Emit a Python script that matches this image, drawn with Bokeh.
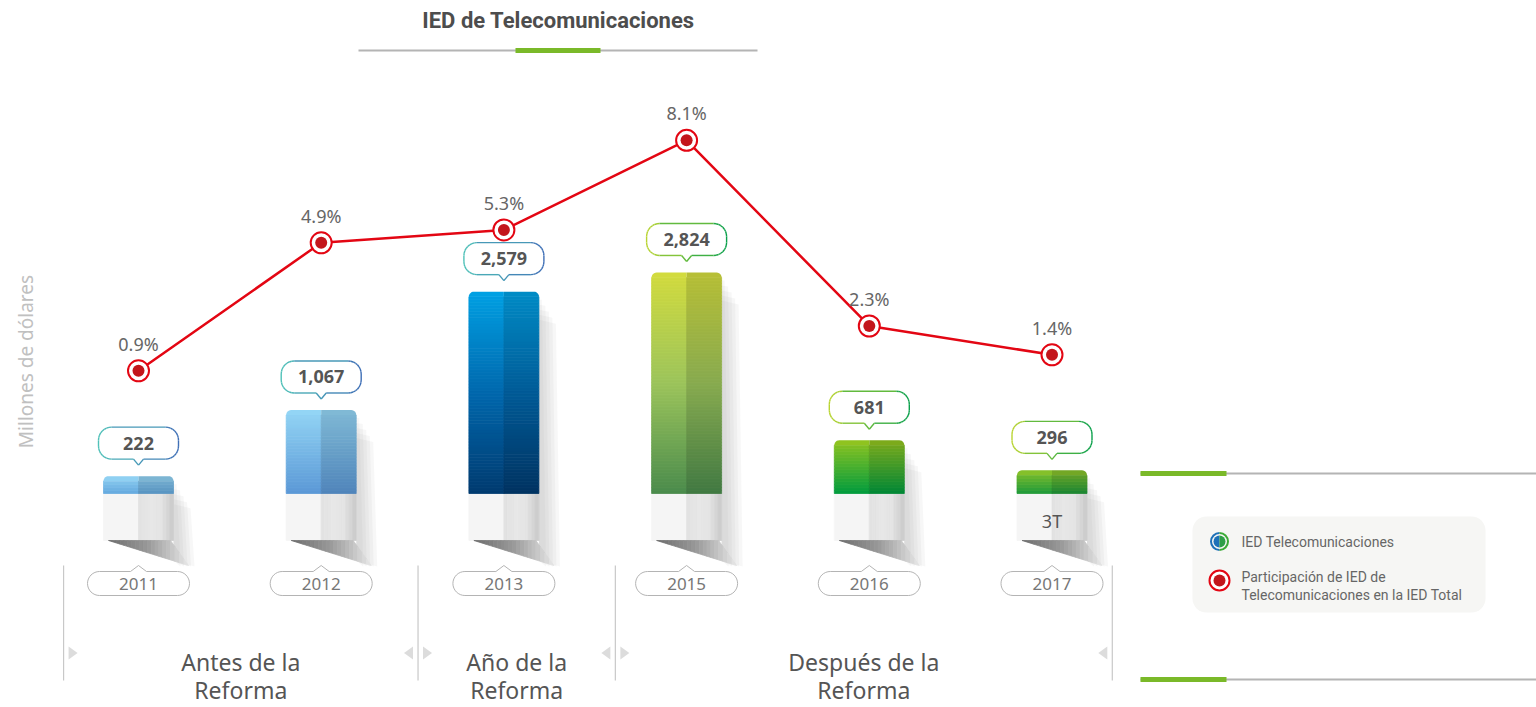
import math
from bokeh.plotting import figure
from bokeh.models import Range1d
from bokeh.core.properties import value
from bokeh.embed import file_html
from bokeh.resources import INLINE

# ---------------- data ----------------
years = ["2011", "2012", "2013", "2015", "2016", "2017"]
ied_telecom = [222, 1067, 2579, 2824, 681, 296]          # millones de dólares
value_labels = ["222", "1,067", "2,579", "2,824", "681", "296"]
share_pct = [0.9, 4.9, 5.3, 8.1, 2.3, 1.4]               # % de la IED total
share_labels = ["0.9%", "4.9%", "5.3%", "8.1%", "2.3%", "1.4%"]
bar_notes = ["", "", "", "", "", "3T"]
group_labels = ["Antes de la\nReforma", "Año de la\nReforma", "Después de la\nReforma"]
title = "IED de Telecomunicaciones"
y_label = "Millones de dólares"
legend_labels = ["IED Telecomunicaciones",
                 "Participación de IED de\nTelecomunicaciones en la IED Total"]

# ---------------- styles ----------------
bar_stops = [
    ["#8fd0f2", "#64a8de"],
    ["#93d5f5", "#5b98d6"],
    ["#00a0e3", "#0068ad", "#003a6f"],
    ["#d2db3e", "#9cc45b", "#4a8b4c"],
    ["#8fc31f", "#009b3e"],
    ["#84c02a", "#1d9a3b"],
]
bubble_edge = [("#4fc1b8", "#3f6fb6")] * 3 + [("#b9d432", "#0aa04b")] * 3
RED = "#e30613"
GREEN = "#7ab929"

# ---------------- layout (page pixels) ----------------
W, H = 1536, 707
C0, PX = 138.0, 182.7      # centre of first category and spacing
BASE = 493.0               # baseline (page y)
SY = 0.07826               # px per million
PCT_RANGE = (-9.62, 12.47)  # secondary axis range (%)
divider_pos = [-0.41, 1.53, 2.61, 5.33]   # in category units


def dx(sx):
    return (sx - C0) / PX


def dy(sy):
    return (BASE - sy) / SY


def hex2rgb(h):
    h = h.lstrip("#")
    return tuple(int(h[i:i + 2], 16) for i in (0, 2, 4))


def rgb2hex(c):
    return "#%02x%02x%02x" % tuple(max(0, min(255, int(round(v)))) for v in c)


def grad(stops, t):
    t = min(max(t, 0.0), 1.0)
    n = len(stops) - 1
    pos = t * n
    k = min(int(pos), n - 1)
    f = pos - k
    a, b = hex2rgb(stops[k]), hex2rgb(stops[k + 1])
    return rgb2hex([a[j] + (b[j] - a[j]) * f for j in range(3)])


def shade(h, f):
    return rgb2hex([c * f for c in hex2rgb(h)])


def rrect(x0, y0, x1, y1, r, notch_top=None, notch_bottom=None, n=8):
    pts = []

    def arc(ccx, ccy, a0, a1):
        for k in range(n + 1):
            a = math.radians(a0 + (a1 - a0) * k / n)
            pts.append((ccx + r * math.cos(a), ccy + r * math.sin(a)))
    arc(x0 + r, y0 + r, 180, 270)
    if notch_top:
        cx, w, h = notch_top
        pts += [(cx - w, y0), (cx, y0 - h), (cx + w, y0)]
    arc(x1 - r, y0 + r, 270, 360)
    arc(x1 - r, y1 - r, 0, 90)
    if notch_bottom:
        cx, w, h = notch_bottom
        pts += [(cx + w, y1), (cx, y1 + h), (cx - w, y1)]
    arc(x0 + r, y1 - r, 90, 180)
    return pts


p = figure(width=W, height=H, x_range=Range1d(dx(0), dx(W)),
           y_range=Range1d(dy(H), dy(0)),
           output_backend="svg", toolbar_location=None, min_border=0,
           x_axis_location=None, y_axis_location=None)
p.extra_y_ranges = {"pct": Range1d(*PCT_RANGE)}
p.grid.visible = False
p.outline_line_color = None
p.background_fill_color = "white"
p.border_fill_color = "white"

# ---------------- shadows / pedestals ----------------
op = ([], [], [], [])     # opaque polys
tr = ([], [], [], [])     # translucent polys


def add_poly(pts, col, alpha, store):
    xs_, ys_, c_, a_ = store
    xs_.append([dx(x) for x, y in pts])
    ys_.append([dy(y) for x, y in pts])
    c_.append(col)
    a_.append(alpha)


for i, v in enumerate(ied_telecom):
    cx = C0 + i * PX
    top = BASE - v * SY
    # soft shadow to the right
    for k in range(5):
        xa, xb = cx + 35, cx + 38 + k * 3.5
        add_poly([(xa, top + 8 + k * 5), (xb, top + 8 + k * 6), (xb + 4, 566), (xa, 560)],
                 "#8a8a8a", 0.07, tr)
    # pedestal
    add_poly([(cx - 35, BASE), (cx, BASE), (cx, 540), (cx - 35, 540)], "#f5f5f5", 1, op)
    ped = ["#e2e2e2", "#e7e7e7", "#e4e4e4", "#cdcdcd"]
    for k in range(10):
        xa, xb = cx + k * 3.5, cx + (k + 1) * 3.5
        add_poly([(xa, BASE), (xb, BASE), (xb, 540), (xa, 540)], grad(ped, k / 9.0), 1, op)
    # wedge shadow under pedestal
    xl, xm, xr = cx - 30, cx + 32, cx + 50

    def ytop(x):
        return 540 if x <= xm else 540 + 25 * (x - xm) / (xr - xm)

    def ybot(x):
        return 540 + 25 * (x - xl) / (xr - xl)
    cuts = [xl + (xm - xl) * k / 16 for k in range(17)] + [xm + (xr - xm) * k / 4 for k in range(1, 5)]
    for k in range(len(cuts) - 1):
        xa, xb = cuts[k], cuts[k + 1]
        t = ((xa + xb) / 2 - xl) / (xr - xl)
        add_poly([(xa, ytop(xa)), (xb, ytop(xb)), (xb, ybot(xb)), (xa, ybot(xa))],
                 grad(["#6c6c6c", "#9a9a9a", "#e6e6e6"], t), 1, op)

p.patches(tr[0], tr[1], fill_color=tr[2], fill_alpha=tr[3], line_color=None)
p.patches(op[0], op[1], fill_color=op[2], line_color=op[2], line_width=0.8)

# ---------------- bars ----------------
ql, qr, qb, qt, qc = [], [], [], [], []
cap_xs, cap_ys, cap_c = [], [], []
HW = 35 / PX
for i, v in enumerate(ied_telecom):
    cx = C0 + i * PX
    hpx = v * SY
    cap = min(5.0, hpx / 2)
    body = hpx - cap
    n = max(3, int(body / 3))
    for k in range(n):
        y0 = v * (k / n) * body / hpx
        y1 = v * ((k + 1) / n) * body / hpx
        t = 1 - ((y0 + y1) / 2) / v
        c = grad(bar_stops[i], t)
        ql += [i - HW, i]
        qr += [i, i + HW]
        qb += [y0, y0]
        qt += [y1, y1]
        qc += [c, shade(c, 0.87)]
    top = BASE - hpx
    r = cap
    c = grad(bar_stops[i], 0)
    lpts = [(cx - 35, top + cap)]
    rpts = [(cx, top + cap), (cx, top)]
    for k in range(7):
        a = math.radians(180 + 90 * k / 6)
        lpts.append((cx - 35 + r + r * math.cos(a), top + r + r * math.sin(a)))
    lpts += [(cx, top), (cx, top + cap)]
    for k in range(7):
        a = math.radians(270 + 90 * k / 6)
        rpts.append((cx + 35 - r + r * math.cos(a), top + r + r * math.sin(a)))
    rpts.append((cx + 35, top + cap))
    for pts, col in ((lpts, c), (rpts, shade(c, 0.87))):
        cap_xs.append([dx(x) for x, y in pts])
        cap_ys.append([dy(y) for x, y in pts])
        cap_c.append(col)
p.quad(left=ql, right=qr, bottom=qb, top=qt, fill_color=qc, line_color=qc, line_width=0.8)
p.patches(cap_xs, cap_ys, fill_color=cap_c, line_color=None)

# ---------------- bubbles and year pills ----------------
b_xs, b_ys = [], []
seg_xs, seg_ys, seg_c = [], [], []
pill_xs, pill_ys = [], []
for i, v in enumerate(ied_telecom):
    cx = C0 + i * PX
    top = BASE - v * SY
    pts = rrect(cx - 40, top - 49, cx + 40, top - 17, 13, notch_bottom=(cx, 5, 6))
    b_xs.append([dx(x) for x, y in pts])
    b_ys.append([dy(y) for x, y in pts])
    cl, cr = bubble_edge[i]
    closed = pts + [pts[0]]
    for k in range(len(closed) - 1):
        (xa, ya), (xb, yb) = closed[k], closed[k + 1]
        t = ((xa + xb) / 2 - (cx - 40)) / 80
        seg_xs.append([dx(xa), dx(xb)])
        seg_ys.append([dy(ya), dy(yb)])
        seg_c.append(grad([cl, cr], t))
    pp = rrect(cx - 51, 571, cx + 51, 595, 12, notch_top=(cx, 8, 6))
    pill_xs.append([dx(x) for x, y in pp])
    pill_ys.append([dy(y) for x, y in pp])
p.patches(b_xs, b_ys, fill_color="white", line_color=None)
p.multi_line(seg_xs, seg_ys, line_color=seg_c, line_width=1.4)
p.patches(pill_xs, pill_ys, fill_color="white", line_color="#b4b4b4", line_width=1)

idx = list(range(len(years)))
p.text(x=idx, y=ied_telecom, text=value_labels, y_offset=-33, text_align="center",
       text_baseline="middle", text_font=value("Noto Sans"), text_font_style="bold",
       text_font_size="18px", text_color="#555555")
p.text(x=idx, y=[dy(583.5)] * len(years), text=years, text_align="center",
       text_baseline="middle", text_font=value("Noto Sans"),
       text_font_size="17px", text_color="#777777")
p.text(x=idx, y=[dy(520)] * len(years), text=bar_notes, text_align="center",
       text_baseline="middle", text_font=value("Noto Sans"),
       text_font_size="18px", text_color="#555555")

# ---------------- share line ----------------
p.line(idx, share_pct, y_range_name="pct", line_color=RED, line_width=2.5)
p.scatter(idx, share_pct, y_range_name="pct", size=21, fill_color="white",
          line_color=RED, line_width=2)
p.scatter(idx, share_pct, y_range_name="pct", size=12, fill_color="#c3161c",
          line_color=None)
p.text(x=idx, y=share_pct, y_range_name="pct", text=share_labels, y_offset=-27,
       text_align="center", text_baseline="middle", text_font=value("Noto Sans"),
       text_font_size="18px", text_color="#666666")

# ---------------- dividers & groups ----------------
p.segment(x0=divider_pos, y0=[dy(565)] * 4, x1=divider_pos, y1=[dy(680)] * 4,
          line_color="#c8c8c8", line_width=1.2)
tri_xs, tri_ys = [], []
for k, d in enumerate(divider_pos):
    sx = C0 + d * PX
    if k < 3:
        pts = [(sx + 5, 646), (sx + 14, 652.5), (sx + 5, 659)]
        tri_xs.append([dx(x) for x, y in pts]); tri_ys.append([dy(y) for x, y in pts])
    if k > 0:
        pts = [(sx - 5, 646), (sx - 14, 652.5), (sx - 5, 659)]
        tri_xs.append([dx(x) for x, y in pts]); tri_ys.append([dy(y) for x, y in pts])
p.patches(tri_xs, tri_ys, fill_color="#dcdcdc", line_color=None)
gx = [(divider_pos[k] + divider_pos[k + 1]) / 2 for k in range(3)]
line1 = [g.split("\n")[0] for g in group_labels]
line2 = [g.split("\n")[1] for g in group_labels]
p.text(x=gx, y=[dy(661)] * 3, text=line1, text_align="center",
       text_baseline="middle", text_font=value("Noto Sans"), text_font_size="23px",
       text_color="#555555")
p.text(x=gx, y=[dy(689)] * 3, text=line2, text_align="center",
       text_baseline="middle", text_font=value("Noto Sans"), text_font_size="23px",
       text_color="#555555")

# ---------------- title & rules ----------------
p.text(x=[dx(558)], y=[dy(20)], text=[title], text_align="center", text_baseline="middle",
       text_font=value("Roboto"), text_font_style="bold", text_font_size="22px",
       text_color="#4d4d4d")
p.segment(x0=[dx(358), dx(1140), dx(1140)], y0=[dy(50), dy(473), dy(679)],
          x1=[dx(757), dx(1536), dx(1536)], y1=[dy(50), dy(473), dy(679)],
          line_color="#b4b4b4", line_width=2)
p.segment(x0=[dx(515), dx(1140), dx(1140)], y0=[dy(50), dy(473), dy(679)],
          x1=[dx(600), dx(1226), dx(1226)], y1=[dy(50), dy(473), dy(679)],
          line_color=GREEN, line_width=5)

p.text(x=[dx(25)], y=[dy(361)], text=[y_label], angle=math.pi / 2, text_align="center",
       text_baseline="middle", text_font=value("Noto Sans"), text_font_size="19px",
       text_color="#c0c0c0")

# ---------------- legend ----------------
lb = rrect(1192, 516, 1485, 612, 14)
p.patch([dx(x) for x, y in lb], [dy(y) for x, y in lb], fill_color="#f6f6f4", line_color=None)
lx, ly1, ly2 = dx(1219), dy(541), dy(580)
p.annular_wedge(x=[lx, lx], y=[ly1, ly1], inner_radius=7.5, outer_radius=9.5,
                inner_radius_units="screen", outer_radius_units="screen",
                start_angle=[math.pi / 2, -math.pi / 2], end_angle=[3 * math.pi / 2, math.pi / 2],
                fill_color=["#1d71b8", "#3aaa35"], line_color=None)
p.wedge(x=[lx, lx], y=[ly1, ly1], radius=6, radius_units="screen",
        start_angle=[math.pi / 2, -math.pi / 2], end_angle=[3 * math.pi / 2, math.pi / 2],
        fill_color=["#1d71b8", "#2d9e46"], line_color=None)
p.scatter([lx], [ly2], size=20, fill_color="white", line_color=RED, line_width=2)
p.scatter([lx], [ly2], size=12, fill_color="#c3161c", line_color=None)
p.text(x=[dx(1241), dx(1241), dx(1241)], y=[ly1, dy(576), dy(594)],
       text=[legend_labels[0]] + legend_labels[1].split("\n"), text_align="left",
       text_baseline="middle", text_font=value("Roboto"), text_font_size="14px",
       text_color="#666666")

open("out.html", "w").write(file_html(p, INLINE))
